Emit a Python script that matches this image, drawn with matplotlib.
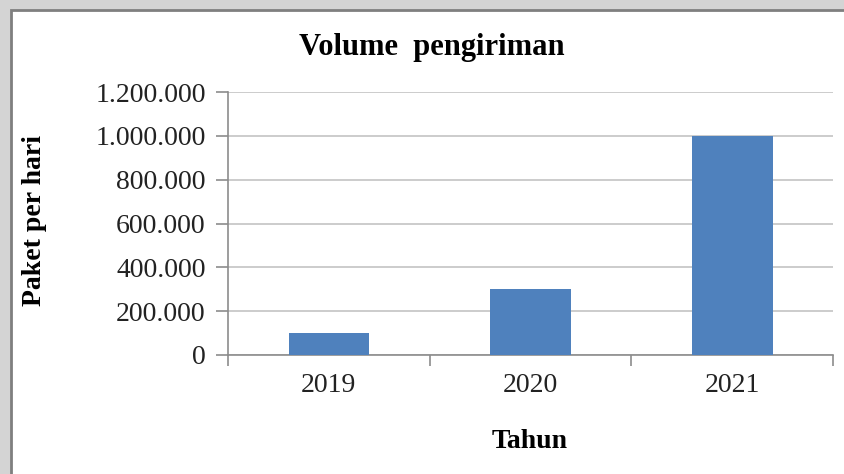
import matplotlib.pyplot as plt
import matplotlib.patches as patches
from matplotlib.ticker import FuncFormatter, FixedLocator

plt.rcParams['font.family'] = ['Liberation Serif', 'DejaVu Serif']

# data
years = ['2019', '2020', '2021']
paket = [100000, 300000, 1000000]
y_ticks = [0, 200000, 400000, 600000, 800000, 1000000, 1200000]

W, H = 844, 474
fig = plt.figure(figsize=(W / 100, H / 100), dpi=100)
fig.patch.set_facecolor('#d4d4d4')

# white chart frame behind the axes
frame = patches.Rectangle((11 / W, -0.01), 1.0, 1 - 10 / H + 0.01, transform=fig.transFigure,
                          facecolor='white', edgecolor='#7f7f7f', linewidth=2, zorder=-5)
fig.patches.append(frame)

ax = fig.add_axes([228 / W, 1 - 355 / H, (833 - 228) / W, (355 - 92) / H])
ax.set_facecolor('none')

x = range(len(years))
ax.bar(x, paket, width=0.4, color='#4f81bd', zorder=3)

ax.set_xlim(-0.5, len(years) - 0.5)
ax.set_ylim(0, 1200000)
ax.set_yticks(y_ticks)
ax.yaxis.set_major_formatter(FuncFormatter(lambda v, p: f"{int(v):,}".replace(',', '.')))
ax.grid(axis='y', color='#c4c4c4', linewidth=1.2, zorder=0)

ax.set_xticks(list(x))
ax.set_xticklabels(years)
ax.xaxis.set_minor_locator(FixedLocator([i - 0.5 for i in range(len(years) + 1)]))
ax.tick_params(axis='x', which='major', length=0, pad=13, labelsize=20, colors='#222222')
ax.tick_params(axis='x', which='minor', length=8, width=1.2, color='#8c8c8c')
ax.tick_params(axis='y', length=9, width=1.2, color='#8c8c8c', pad=7, labelsize=20,
               labelcolor='#222222')

for side in ['top', 'right']:
    ax.spines[side].set_visible(False)
for side in ['left', 'bottom']:
    ax.spines[side].set_color('#8c8c8c')
    ax.spines[side].set_linewidth(1.2)

fig.text(432 / W, 1 - 48 / H, 'Volume  pengiriman', ha='center', va='center',
         fontsize=22, fontweight='bold')
fig.text(35 / W, 1 - 220 / H, 'Paket per hari', ha='center', va='center', rotation=90,
         fontsize=20, fontweight='bold')
fig.text(530 / W, 1 - 442 / H, 'Tahun', ha='center', va='center',
         fontsize=20, fontweight='bold')

fig.savefig('out.png', dpi=100, facecolor=fig.get_facecolor())
